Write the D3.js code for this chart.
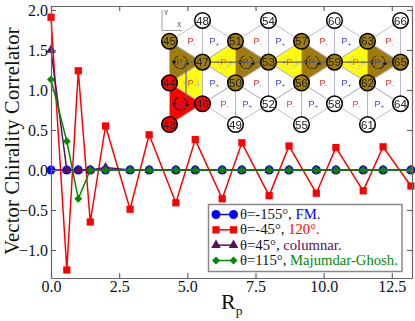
<!DOCTYPE html>
<html>
<head>
<meta charset="utf-8">
<script src="https://cdnjs.cloudflare.com/ajax/libs/d3/7.8.5/d3.min.js"></script>
<style>
html, body { margin: 0; padding: 0; background: #fff; }
svg { display: block; font-family: "Liberation Serif", serif; }
</style>
</head>
<body>
<div id="chart"></div>
<script>
// distances along the lattice, shared by all four curves
const rp = [0, 0.58, 1.0, 1.44, 2.0, 2.9, 3.6, 4.58, 5.29, 6.28, 7.0, 8.0, 8.73, 9.73, 10.45, 11.45, 12.18, 13.2];
const fm = [0, 0, 0, 0, 0, 0, 0, 0, 0, 0, 0, 0, 0, 0, 0, 0, 0, 0];
const deg120 = [1.91, -1.25, 1.24, -0.65, 0.55, -0.49, 0.44, -0.41, 0.38, -0.36, 0.34, -0.32, 0.30, -0.29, 0.28, -0.26, 0.29, -0.20];
const columnar = [1.5, 0, 0, 0, 0.03, 0, 0, 0, 0, 0, 0, 0, 0, 0, 0, 0, 0, 0];
const mg = [1.13, 0.36, -0.36, 0, 0, 0, 0, 0, 0, 0, 0, 0, 0, 0, 0, 0, 0, 0];

const xTicks = [0, 2.5, 5, 7.5, 10, 12.5];
const yTicks = [-1, -0.5, 0, 0.5, 1, 1.5, 2];

const legendAngles = ["θ=-155°, ", "θ=-45°, ", "θ=45°, ", "θ=115°, "];
const legendNames = ["FM.", "120°.", "columnar.", "Majumdar-Ghosh."];

// inset lattice: site label, column, row
const siteLabels = [45, 44, 43, 48, 47, 46, 51, 50, 49, 54, 53, 52, 57, 56, 55, 60, 59, 58, 63, 62, 61, 66, 65, 64];
const siteCols = [0, 0, 0, 1, 1, 1, 2, 2, 2, 3, 3, 3, 4, 4, 4, 5, 5, 5, 6, 6, 6, 7, 7, 7];
const siteRows = [1, 3, 5, 0, 2, 4, 1, 3, 5, 0, 2, 4, 1, 3, 5, 0, 2, 4, 1, 3, 5, 0, 2, 4];
const brownSites = [45, 47, 51, 50, 53, 57, 56, 59, 63, 62, 65];
const redSites = [44, 46, 43];

// triangles: three sites, then the plaquette sign
const triSites = [
  [48, 45, 47], [45, 47, 44], [47, 44, 46], [44, 46, 43],
  [48, 51, 47], [51, 47, 50], [47, 50, 46], [50, 46, 49],
  [54, 51, 53], [51, 53, 50], [53, 50, 52], [50, 52, 49],
  [54, 57, 53], [57, 53, 56], [53, 56, 52], [56, 52, 55],
  [60, 57, 59], [57, 59, 56], [59, 56, 58], [56, 58, 55],
  [60, 63, 59], [63, 59, 62], [59, 62, 58], [62, 58, 61],
  [66, 63, 65], [63, 65, 62], [65, 62, 64], [62, 64, 61]
];
const triSigns = ["-", "+", "-", "+", "+", "-", "+", "-", "-", "+", "-", "+", "+", "-", "+", "-", "-", "+", "-", "+", "+", "-", "+", "-", "-", "+", "-", "+"];
const triFills = ["", "brown", "yellow", "red", "", "yellow", "", "", "", "brown", "", "", "", "yellow", "", "", "", "brown", "", "", "", "yellow", "", "", "", "brown", "", ""];

const width = 415, height = 321;
const margin = { top: 6, right: 3, bottom: 43, left: 51 };

const svg = d3.select("#chart").append("svg").attr("width", width).attr("height", height);

// the inset is a small bitmap in the original, so it reads slightly soft
svg.append("defs").append("filter").attr("id", "soft")
  .append("feGaussianBlur").attr("stdDeviation", 0.35);

const x = d3.scaleLinear().domain([0, 13.24]).range([margin.left, width - margin.right]);
const y = d3.scaleLinear().domain([-1.35, 2.05]).range([height - margin.bottom, margin.top]);

const frameColor = "#666";

// d3's own diamond is too narrow for this one
const squareDiamond = {
  draw(ctx, size) {
    const r = Math.sqrt(size / 2);
    ctx.moveTo(0, -r);
    ctx.lineTo(r, 0);
    ctx.lineTo(0, r);
    ctx.lineTo(-r, 0);
    ctx.closePath();
  }
};

const line = d3.line().x((d, i) => x(rp[i])).y(d => y(d));
const series = [
  { values: fm, color: "#0000ff", shape: d3.symbolCircle, size: 62 },
  { values: deg120, color: "#ff0000", shape: d3.symbolSquare, size: 52 },
  { values: columnar, color: "#5c0f5c", shape: d3.symbolTriangle, size: 40 },
  { values: mg, color: "#008a00", shape: squareDiamond, size: 32 }
];

series.forEach(s => {
  svg.append("path")
    .attr("d", line(s.values))
    .attr("fill", "none")
    .attr("stroke", s.color)
    .attr("stroke-width", 1.5);
  svg.selectAll(null)
    .data(s.values)
    .join("path")
    .attr("d", d3.symbol().type(s.shape).size(s.size))
    .attr("transform", (d, i) => `translate(${x(rp[i])},${y(d)})`)
    .attr("fill", s.color);
});

// inset picture, sits on top of the curves
svg.append("rect")
  .attr("x", 155).attr("y", margin.top)
  .attr("width", width - margin.right - 155).attr("height", 125)
  .attr("fill", "#fff");
const inset = svg.append("g").attr("class", "inset").attr("filter", "url(#soft)");

const col = d3.scaleLinear().domain([0, 7]).range([169.5, 400.5]);
const row = d3.scaleLinear().domain([0, 5]).range([20.5, 124.5]);
const site = {};
siteLabels.forEach((l, i) => { site[l] = [col(siteCols[i]), row(siteRows[i])]; });

const fills = { brown: "#a07c10", yellow: "#ffff00", red: "#ff0000" };
const plaquettes = triSites.map((t, i) => {
  const pts = t.map(l => site[l]);
  return { pts, sign: triSigns[i], fill: triFills[i], cx: d3.mean(pts, p => p[0]), cy: d3.mean(pts, p => p[1]) };
});

inset.selectAll(".tri")
  .data(plaquettes.filter(p => p.fill))
  .join("polygon")
  .attr("points", p => p.pts.join(" "))
  .attr("fill", p => fills[p.fill]);

plaquettes.forEach(p => {
  inset.append("path")
    .attr("d", d3.line()([p.pts[0], p.pts[1], p.pts[2], p.pts[0]]))
    .attr("fill", "none")
    .attr("stroke", "#b4b4d2")
    .attr("stroke-width", 0.9);
});

// rotation arrows on the coloured plaquettes
const arc = d3.arc().innerRadius(6.3).outerRadius(6.9).startAngle(0.4).endAngle(2 * Math.PI - 0.3);
plaquettes.filter(p => p.fill).forEach(p => {
  const c = p.fill === "yellow" ? "#c8c8c8" : "#111";
  inset.append("path")
    .attr("d", arc())
    .attr("transform", `translate(${p.cx},${p.cy})`)
    .attr("fill", c);
  inset.append("path")
    .attr("d", d3.symbol().type(d3.symbolTriangle).size(9))
    .attr("transform", `translate(${p.cx - 6.5},${p.cy}) rotate(180)`)
    .attr("fill", c);
  inset.append("path")
    .attr("d", d3.symbol().type(d3.symbolTriangle).size(9))
    .attr("transform", `translate(${p.cx + 6.5},${p.cy + 1})`)
    .attr("fill", c);
});

// the x and y reference lines through the plaquette centres
const guideX = col(0.5);
inset.append("path")
  .attr("d", d3.line()([[guideX, site[47][1]], [site[65][0], site[47][1]]]))
  .attr("stroke", "#666").attr("stroke-width", 1.2).attr("fill", "none");
inset.append("path")
  .attr("d", d3.line()([[guideX, site[47][1]], [guideX, row(3.7)]]))
  .attr("stroke", "#666").attr("stroke-width", 1.2).attr("fill", "none");

const signText = inset.selectAll(".sign")
  .data(plaquettes)
  .join("text")
  .attr("x", p => p.cx - 4)
  .attr("y", p => p.cy + 3)
  .attr("font-family", "'Liberation Sans', sans-serif")
  .attr("font-size", 9)
  .attr("fill", p => p.sign === "+" ? "#3c3ccc" : (p.fill === "yellow" ? "#e05000" : "#e83030"));
signText.append("tspan").text("P");
signText.append("tspan").attr("font-size", 6).attr("dy", 1.5).text(p => p.sign);

inset.selectAll(".site")
  .data(siteLabels)
  .join("circle")
  .attr("cx", l => site[l][0])
  .attr("cy", l => site[l][1])
  .attr("r", 7.8)
  .attr("fill", l => brownSites.includes(l) ? fills.brown : redSites.includes(l) ? fills.red : "#fff")
  .attr("stroke", "#000")
  .attr("stroke-width", 1.5);

inset.selectAll(".siteLabel")
  .data(siteLabels)
  .join("text")
  .attr("x", l => site[l][0])
  .attr("y", l => site[l][1] + 4)
  .attr("text-anchor", "middle")
  .attr("font-family", "'Liberation Sans', sans-serif")
  .attr("font-size", 11.5)
  .attr("fill", "#222")
  .text(l => l);

// little x-y key in the corner of the inset
inset.append("path")
  .attr("d", d3.line()([[162, 10], [162, 30.5], [182, 30.5]]))
  .attr("fill", "none").attr("stroke", "#888").attr("stroke-width", 0.8);
inset.append("text").attr("x", 164).attr("y", 15).attr("font-family", "'Liberation Sans', sans-serif").attr("font-size", 6.5).attr("fill", "#444").text("Y");
inset.append("text").attr("x", 177).attr("y", 27).attr("font-family", "'Liberation Sans', sans-serif").attr("font-size", 6.5).attr("fill", "#444").text("X");

// axes, all four sides with inward ticks
const bottom = svg.append("g")
  .attr("transform", `translate(0,${height - margin.bottom})`)
  .call(d3.axisBottom(x).tickValues(xTicks).tickFormat(d3.format(".1f")).tickSizeInner(-5).tickSizeOuter(0).tickPadding(3));
const left = svg.append("g")
  .attr("transform", `translate(${margin.left},0)`)
  .call(d3.axisLeft(y).tickValues(yTicks).tickFormat(d3.format(".1f")).tickSizeInner(-5).tickSizeOuter(0).tickPadding(3));
const top_ = svg.append("g")
  .attr("transform", `translate(0,${margin.top})`)
  .call(d3.axisTop(x).tickValues(xTicks).tickFormat("").tickSizeInner(-5).tickSizeOuter(0));
const right = svg.append("g")
  .attr("transform", `translate(${width - margin.right},0)`)
  .call(d3.axisRight(y).tickValues(yTicks).tickFormat("").tickSizeInner(-5).tickSizeOuter(0));

[bottom, left, top_, right].forEach(a => {
  a.selectAll("path, line").attr("stroke", frameColor).attr("stroke-width", 1.2);
  a.selectAll("text").attr("font-family", "'Liberation Serif', serif").attr("font-size", 16).attr("fill", "#111");
});

svg.append("text")
  .attr("transform", `translate(18.5,141) rotate(-90)`)
  .attr("text-anchor", "middle")
  .attr("font-size", 20.5)
  .attr("letter-spacing", 0.25)
  .attr("fill", "#111")
  .text("Vector Chirality Correlator");

const xLabel = svg.append("text")
  .attr("x", 221)
  .attr("y", 309)
  .attr("font-size", 22)
  .attr("fill", "#111");
xLabel.append("tspan").text("R");
xLabel.append("tspan").attr("font-size", 13.5).attr("dy", 6).text("p");

// legend
const legend = svg.append("g");
legend.append("rect")
  .attr("x", 208.5).attr("y", 204.5)
  .attr("width", 193.5).attr("height", 67)
  .attr("fill", "#fff")
  .attr("stroke", "#888")
  .attr("stroke-width", 1.5);

const legendY = d3.scalePoint().domain(d3.range(4)).range([214.5, 260.5]);
series.forEach((s, i) => {
  const ly = legendY(i);
  legend.append("path")
    .attr("d", d3.line()([[216, ly], [233.5, ly]]))
    .attr("stroke", s.color)
    .attr("stroke-width", 1.5);
  [216, 233.5].forEach(lx => {
    legend.append("path")
      .attr("d", d3.symbol().type(s.shape).size(s.size))
      .attr("transform", `translate(${lx},${ly})`)
      .attr("fill", s.color);
  });
  const t = legend.append("text")
    .attr("x", 240)
    .attr("y", ly + 4.5)
    .attr("font-size", 14.7)
    .attr("fill", "#111");
  t.append("tspan").text(legendAngles[i]);
  t.append("tspan").attr("fill", s.color).text(legendNames[i]);
});
</script>
</body>
</html>
